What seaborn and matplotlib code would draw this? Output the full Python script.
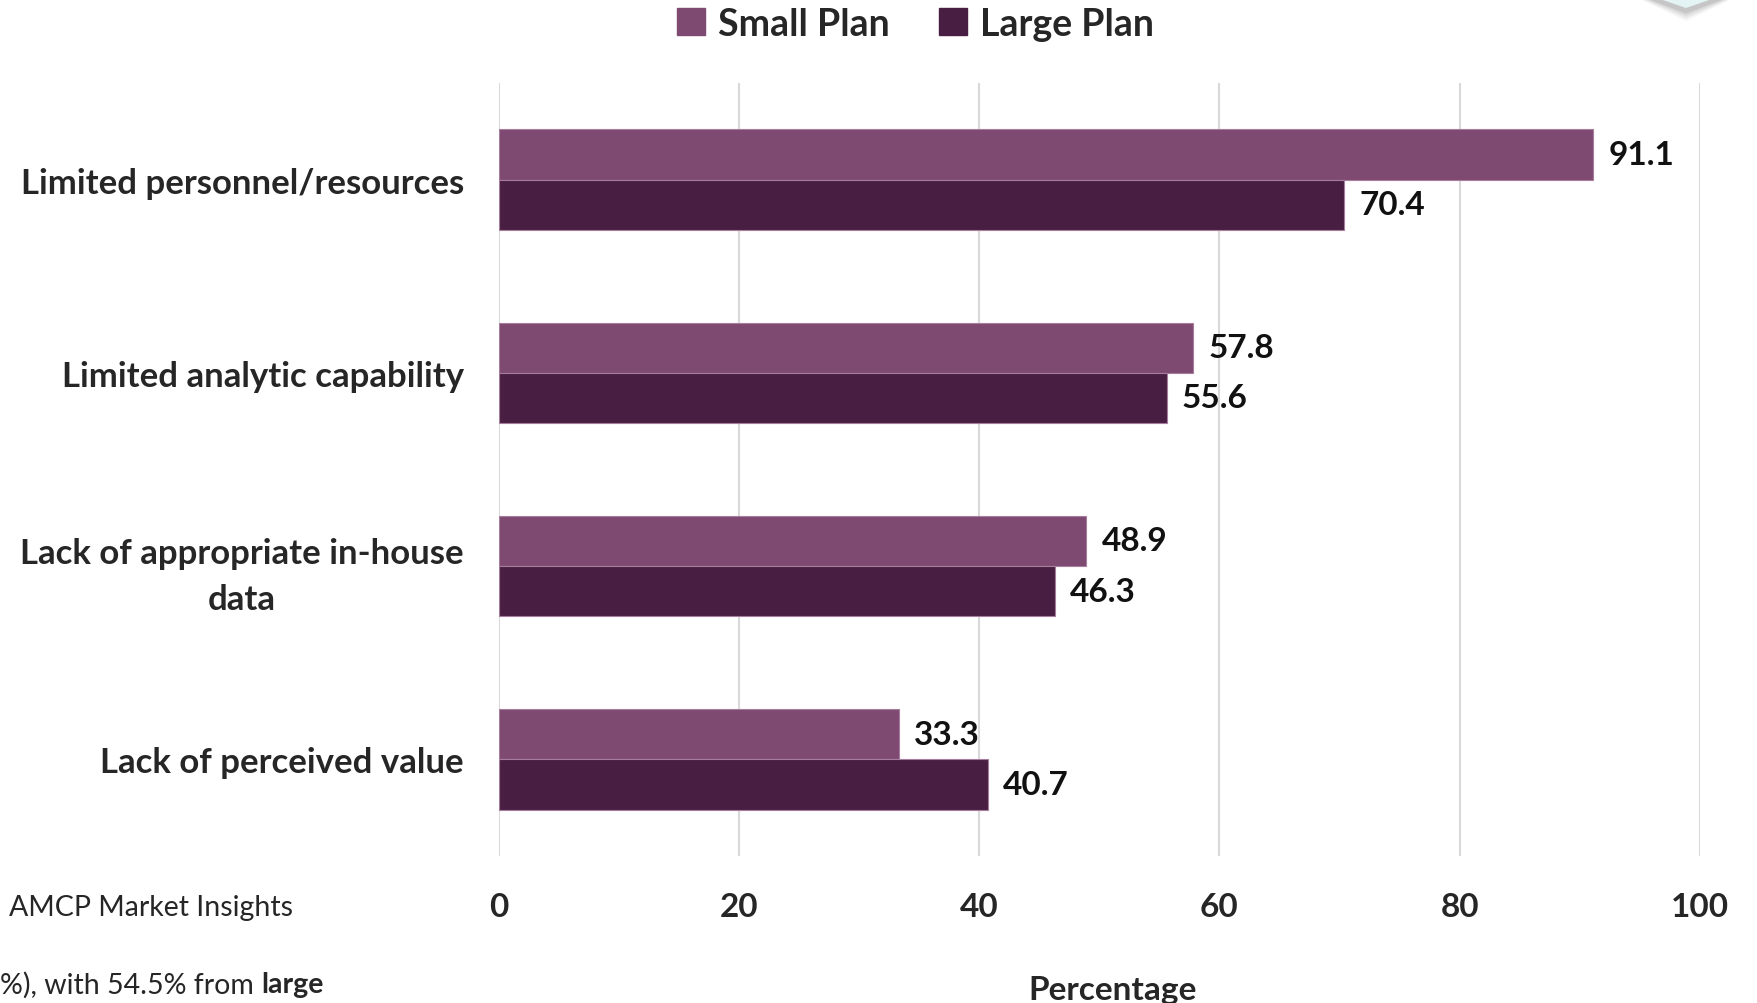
import matplotlib.pyplot as plt
import seaborn as sns
import pandas as pd
from matplotlib.patches import Polygon

categories = [
    'Limited personnel/resources',
    'Limited analytic capability',
    'Lack of appropriate in-house\ndata',
    'Lack of perceived value',
]
small_plan = [91.1, 57.8, 48.9, 33.3]
large_plan = [70.4, 55.6, 46.3, 40.7]
series = ['Small Plan', 'Large Plan']
colors = ['#7f4a72', '#481f42']
x_ticks = [0, 20, 40, 60, 80, 100]

df = pd.DataFrame({
    'Barrier': categories * 2,
    'Plan': [series[0]] * 4 + [series[1]] * 4,
    'Percentage': small_plan + large_plan,
})

sns.set_style('white')
plt.rcParams['font.family'] = ['Lato', 'DejaVu Sans']

W, H = 1757, 1004
fig = plt.figure(figsize=(W / 100, H / 100), dpi=100)
ax = fig.add_axes([0.2838, 0.1464, 0.6838, 0.77])

sns.barplot(
    data=df, y='Barrier', x='Percentage', hue='Plan',
    palette=colors, saturation=1, orient='h', width=0.52, ax=ax,
    edgecolor='#a77d9d', linewidth=0.8, legend=False,
)

for container in ax.containers:
    ax.bar_label(container, fmt='%.1f', padding=11,
                 fontsize=24, fontweight='bold', color='#111111')

ax.set_xlim(0, 100)
ax.set_ylim(3.5, -0.5)
ax.set_xticks(x_ticks)
ax.xaxis.grid(True, color='#d9d9d9', linewidth=1.5)
ax.set_axisbelow(True)
for side in ['top', 'right', 'bottom', 'left']:
    ax.spines[side].set_visible(False)

ax.set_yticks(range(len(categories)))
ax.set_yticklabels(categories)
ax.tick_params(axis='x', length=0, pad=26, labelsize=24)
ax.tick_params(axis='y', length=0, pad=25, labelsize=25)
for lbl in ax.get_xticklabels():
    lbl.set_fontweight('bold')
for lbl in ax.get_yticklabels():
    lbl.set_fontweight('bold')
    lbl.set_multialignment('center')
    lbl.set_linespacing(1.55)

ax.set_ylabel('')
ax.set_xlabel('Percentage', fontsize=24, fontweight='bold')
ax.xaxis.set_label_coords(0.511, -0.154)

handles = [plt.Rectangle((0, 0), 1, 1, color=c) for c in colors]
fig.legend(handles, series, loc='upper center', bbox_to_anchor=(0.521, 1.026),
           ncol=2, frameon=False, prop={'weight': 'bold', 'size': 27},
           handlelength=0.75, handleheight=0.75, handletextpad=0.35,
           columnspacing=1.3)

fig.text(0.005, 0.096, 'AMCP Market Insights', fontsize=20.5, ha='left', va='center')
t = fig.text(0.0, 0.019, '%), with 54.5% from ', fontsize=20.5, ha='left', va='center')
fig.canvas.draw()
bb = t.get_window_extent(fig.canvas.get_renderer())
fig.text(bb.x1 / W, 0.019, 'large', fontsize=20.5, fontweight='bold',
         ha='left', va='center')

# decorative corner piece cut off at top right
for k, a in enumerate([0.06, 0.08, 0.1, 0.14]):
    off = 10 - 2.5 * k
    pts = [(1650 - off, H), (1686, H - 12 - off), (1722 + off, H)]
    fig.patches.append(Polygon([(x / W, y / H) for x, y in pts], closed=True,
                               transform=fig.transFigure, color='#555555',
                               alpha=a, lw=0))
pts = [(1660, H), (1686, H - 9), (1712, H)]
fig.patches.append(Polygon([(x / W, y / H) for x, y in pts], closed=True,
                           transform=fig.transFigure, color='#e4f3f3', lw=0))

fig.savefig('out.png', dpi=100)
